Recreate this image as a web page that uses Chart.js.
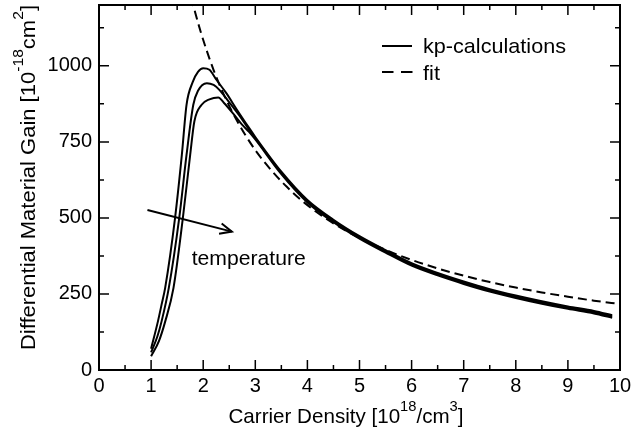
<!DOCTYPE html>
<html><head><meta charset="utf-8">
<script src="https://cdn.jsdelivr.net/npm/chart.js@4.4.1/dist/chart.umd.min.js"></script>
<style>html,body{margin:0;padding:0;background:#fff;}#wrap{width:631px;height:431px;}</style>
</head><body><div id="wrap"><canvas id="c" width="631" height="431"></canvas></div>
<script>
// ---- data ----
const xTickLabels = [0, 1, 2, 3, 4, 5, 6, 7, 8, 9, 10];
const yTickLabels = [0, 250, 500, 750, 1000];

const kp1X = [1.0, 1.13, 1.20, 1.27, 1.46, 1.59, 1.68, 1.80, 1.90, 2.0, 2.12, 2.25, 2.44, 2.65, 2.88, 3.0, 3.5, 4.0, 4.5, 5.0, 5.5, 6.0, 6.5, 7.0, 7.5, 8.0, 8.5, 9.0, 9.5, 9.85];
const kp1Y = [70, 159, 214, 270, 500, 707, 872, 947, 980, 992, 987, 955, 911, 855, 796, 766, 652, 559, 494, 440, 394, 351, 319, 291, 266, 245, 226, 209, 194, 180];

const kp2X = [1.0, 1.12, 1.20, 1.34, 1.54, 1.68, 1.81, 1.90, 2.07, 2.2, 2.31, 2.5, 2.7, 2.88, 3.0, 3.5, 4.0, 4.5, 5.0, 5.5, 6.0, 6.5, 7.0, 7.5, 8.0, 8.5, 9.0, 9.5, 9.85];
const kp2Y = [58, 110, 159, 270, 500, 707, 872, 918, 943, 937, 921, 880, 835, 790, 762, 648, 555, 490, 436, 390, 347, 315, 287, 262, 241, 222, 205, 190, 176];

const kp3X = [1.0, 1.15, 1.27, 1.43, 1.61, 1.75, 1.83, 1.97, 2.12, 2.29, 2.40, 2.6, 2.75, 2.88, 3.0, 3.5, 4.0, 4.5, 5.0, 5.5, 6.0, 6.5, 7.0, 7.5, 8.0, 8.5, 9.0, 9.5, 9.85];
const kp3Y = [45, 95, 159, 270, 500, 707, 817, 872, 890, 896, 878, 838, 806, 783, 758, 644, 551, 486, 432, 386, 343, 311, 283, 258, 237, 218, 201, 186, 172];

const fitX = [1.77, 1.85, 1.95, 2.05, 2.2, 2.4, 2.6, 2.8, 3.0, 3.3, 3.6, 4.0, 4.5, 5.0, 5.5, 6.0, 6.5, 7.0, 7.5, 8.0, 8.5, 9.0, 9.5, 10.0];
const fitY = [1226, 1173, 1113, 1059, 986, 904, 835, 775, 723, 658, 603, 542, 482, 434, 395, 362, 334, 310, 289, 271, 255, 241, 228, 217];

const arrowX = [0.93, 2.55];
const arrowY = [526, 455];

const legendLabels = ['kp-calculations', 'fit'];
const annotationText = 'temperature';
const xTitle = [['Carrier Density [10', 0], ['18', 1], ['/cm', 0], ['3', 1], [']', 0]];
const yTitle = [['Differential Material Gain [10', 0], ['-18', 1], ['cm', 0], ['2', 1], [']', 0]];

// ---- helpers ----
const FAM = "'Liberation Sans', Arial, Helvetica, sans-serif";
function pts(xs, ys) { return xs.map((x, i) => ({ x: x, y: ys[i] })); }

function drawSegs(ctx, segs, x, y, targetW, size, supSize, raise) {
  let total = 0;
  const ws = segs.map(s => {
    ctx.font = (s[1] ? supSize : size) + 'px ' + FAM;
    const w = ctx.measureText(s[0]).width; total += w; return w;
  });
  const sx = targetW ? targetW / total : 1;
  ctx.save();
  ctx.translate(x, y);
  ctx.scale(sx, 1);
  ctx.textBaseline = 'alphabetic';
  ctx.textAlign = 'left';
  ctx.fillStyle = '#000';
  let cx = 0;
  segs.forEach((s, i) => {
    ctx.font = (s[1] ? supSize : size) + 'px ' + FAM;
    ctx.fillText(s[0], cx, s[1] ? -raise : 0);
    cx += ws[i];
  });
  ctx.restore();
}

const deco = {
  id: 'deco',
  beforeDraw(chart) {
    const ctx = chart.ctx;
    ctx.save(); ctx.fillStyle = '#fff'; ctx.fillRect(0, 0, chart.width, chart.height); ctx.restore();
  },
  afterDatasetsDraw(chart) {
    const ctx = chart.ctx, a = chart.chartArea;
    const xs = chart.scales.x, ys = chart.scales.y;
    ctx.save();
    ctx.strokeStyle = '#000';
    // frame
    ctx.lineWidth = 2;
    ctx.strokeRect(a.left, a.top, a.right - a.left, a.bottom - a.top);
    // inward ticks on all four sides
    ctx.lineWidth = 1.5;
    ctx.beginPath();
    for (let v = 0; v <= 10.001; v += 0.5) {
      const p = xs.getPixelForValue(v);
      const L = Math.abs(v - Math.round(v)) < 1e-6 ? 10 : 5;
      ctx.moveTo(p, a.bottom); ctx.lineTo(p, a.bottom - L);
      ctx.moveTo(p, a.top); ctx.lineTo(p, a.top + L);
    }
    for (let v = 0; v <= 1125.001; v += 125) {
      const p = ys.getPixelForValue(v);
      const L = (v % 250 === 0) ? 10 : 5;
      ctx.moveTo(a.left, p); ctx.lineTo(a.left + L, p);
      ctx.moveTo(a.right, p); ctx.lineTo(a.right - L, p);
    }
    ctx.stroke();
    // arrowhead
    const x0 = xs.getPixelForValue(arrowX[0]), y0 = ys.getPixelForValue(arrowY[0]);
    const x1 = xs.getPixelForValue(arrowX[1]), y1 = ys.getPixelForValue(arrowY[1]);
    const ang = Math.atan2(y1 - y0, x1 - x0);
    const hl = 13, ha = 0.42;
    ctx.lineWidth = 2;
    ctx.beginPath();
    ctx.moveTo(x1 - hl * Math.cos(ang - ha), y1 - hl * Math.sin(ang - ha));
    ctx.lineTo(x1, y1);
    ctx.lineTo(x1 - hl * Math.cos(ang + ha), y1 - hl * Math.sin(ang + ha));
    ctx.stroke();
    // annotation
    drawSegs(ctx, [[annotationText, 0]], xs.getPixelForValue(1.78), ys.getPixelForValue(345), 114, 21, 14, 0);
    // legend
    ctx.lineWidth = 2;
    ctx.beginPath(); ctx.moveTo(382, 46); ctx.lineTo(412, 46); ctx.stroke();
    ctx.beginPath(); ctx.moveTo(382, 72); ctx.lineTo(393.5, 72); ctx.moveTo(401, 72); ctx.lineTo(412.5, 72); ctx.stroke();
    drawSegs(ctx, [[legendLabels[0], 0]], 423, 53, 143, 21, 14, 0);
    drawSegs(ctx, [[legendLabels[1], 0]], 423, 79.5, 17, 21, 14, 0);
    // axis titles
    drawSegs(ctx, xTitle, 228.5, 422.5, 235, 21, 15, 12);
    ctx.save();
    ctx.translate(35, 350);
    ctx.rotate(-Math.PI / 2);
    drawSegs(ctx, yTitle, 0, 0, 345, 21, 15, 12);
    ctx.restore();
    ctx.restore();
  }
};

const solid = { borderColor: '#000', borderWidth: 2, pointRadius: 0, fill: false, cubicInterpolationMode: 'monotone' };

new Chart(document.getElementById('c'), {
  type: 'line',
  data: {
    datasets: [
      Object.assign({ label: legendLabels[0], data: pts(kp1X, kp1Y) }, solid),
      Object.assign({ label: legendLabels[0] + ' 2', data: pts(kp2X, kp2Y) }, solid),
      Object.assign({ label: legendLabels[0] + ' 3', data: pts(kp3X, kp3Y) }, solid),
      Object.assign({ label: legendLabels[1], data: pts(fitX, fitY), borderDash: [9, 5] }, solid),
      { label: 'arrow', data: pts(arrowX, arrowY), borderColor: '#000', borderWidth: 2, pointRadius: 0, tension: 0 }
    ]
  },
  options: {
    responsive: false,
    animation: false,
    devicePixelRatio: 1,
    layout: { padding: { left: 0, right: 11, top: 5, bottom: 0 } },
    plugins: { legend: { display: false }, tooltip: { enabled: false } },
    scales: {
      x: {
        type: 'linear', min: 0, max: 10,
        afterBuildTicks: s => { s.ticks = xTickLabels.map(v => ({ value: v })); },
        afterFit: s => { s.height = 61; s.paddingLeft = 0; s.paddingRight = 0; },
        grid: { display: false, drawTicks: false },
        border: { display: false },
        ticks: { color: '#000', font: { family: FAM, size: 20 }, padding: 4, maxRotation: 0, autoSkip: false, callback: v => String(v) }
      },
      y: {
        type: 'linear', min: 0, max: 1200,
        afterBuildTicks: s => { s.ticks = yTickLabels.map(v => ({ value: v })); },
        afterFit: s => { s.width = 99; s.paddingTop = 0; s.paddingBottom = 0; },
        grid: { display: false, drawTicks: false },
        border: { display: false },
        ticks: { color: '#000', font: { family: FAM, size: 20 }, padding: 7, autoSkip: false, callback: v => String(v) }
      }
    }
  },
  plugins: [deco]
});
</script>
</body></html>
